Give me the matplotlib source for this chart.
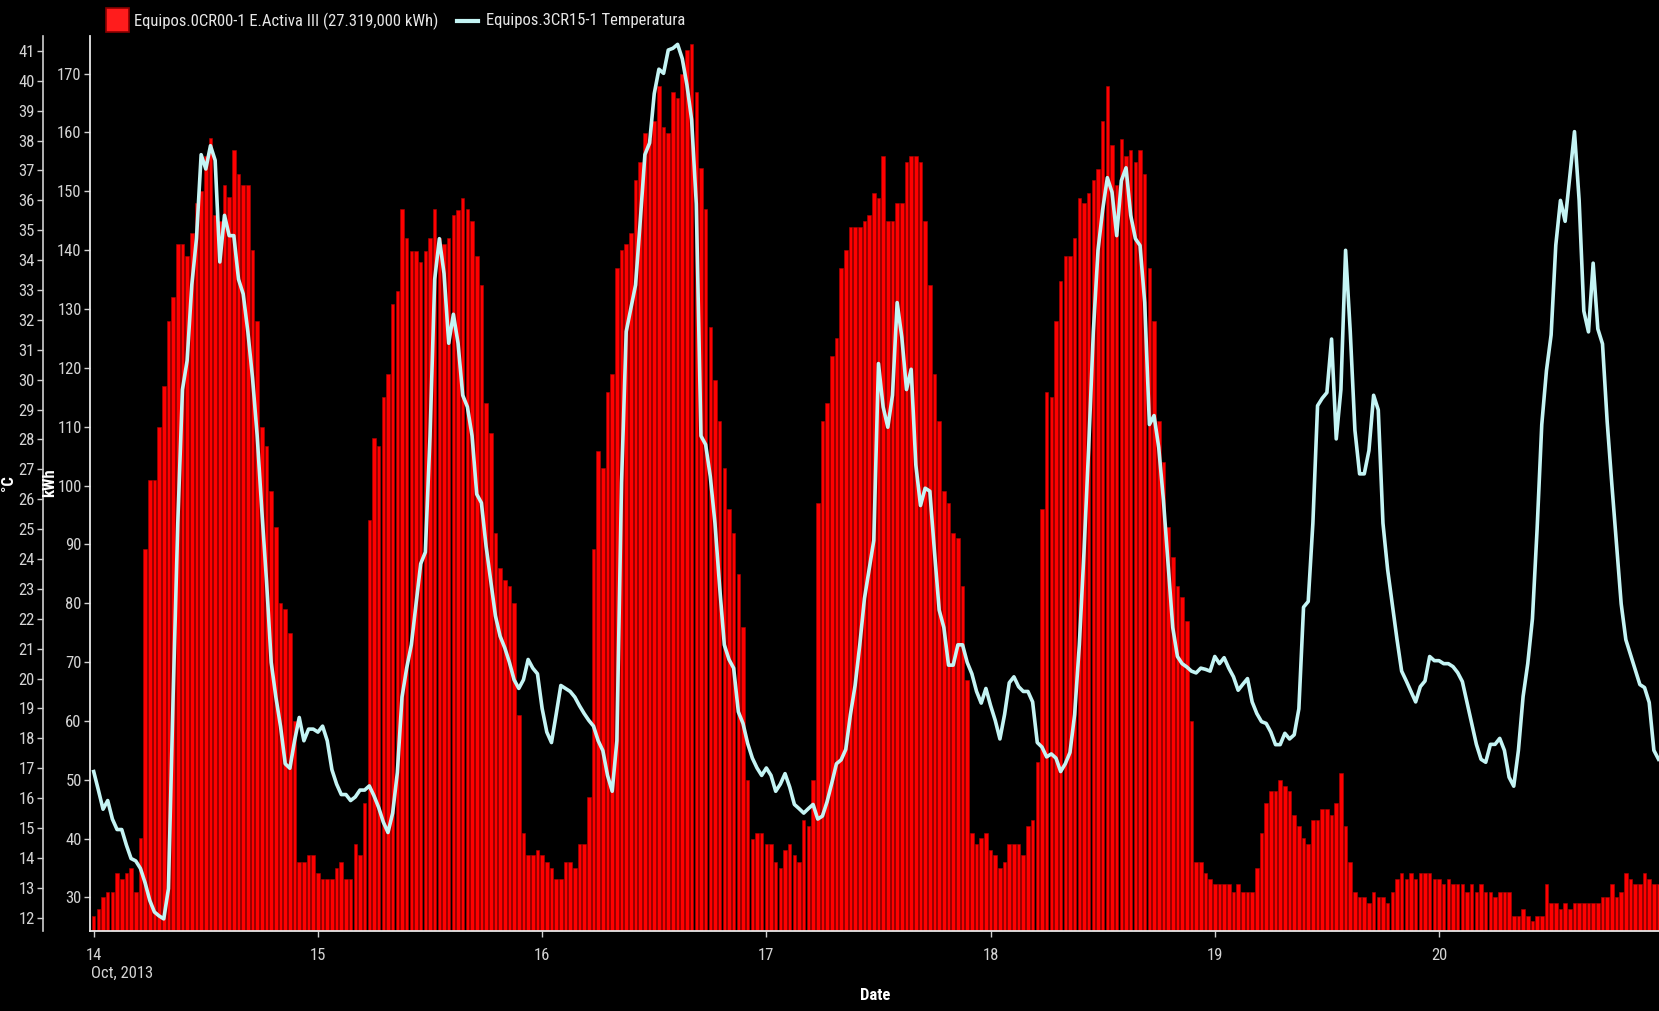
import numpy as np
import matplotlib
matplotlib.use("Agg")
import matplotlib.pyplot as plt
from matplotlib import font_manager
from matplotlib.patches import Rectangle
from matplotlib.lines import Line2D

# half-hourly energy (kWh), one list per day of October 2013
kwh_14 = [26.8, 28.0, 30.0, 31.0, 31.0, 34.1, 33.2, 34.1, 35.0, 31.0, 40.1, 89.2, 101, 101, 110, 116.9,
          128, 132, 141, 141, 139, 143, 148, 150, 156, 159, 146, 145, 151, 149, 157, 153,
          151, 151, 140, 128, 110, 106.8, 99, 93, 80, 79, 75, 60, 36, 36, 37.2, 37.2]
kwh_15 = [34.1, 33.2, 33.2, 33.2, 35.0, 36.0, 33.2, 33.2, 39.1, 37.2, 46.0, 94.1, 108, 106.8, 115, 119,
          130.9, 133, 147, 142, 139.9, 139.9, 138, 139.9, 142, 147, 142, 141, 142, 145.9, 146.9, 148.8,
          147, 144.9, 139, 134, 114, 109, 92, 86, 84, 83, 80, 61, 41, 37.2, 37.2, 38]
kwh_16 = [37.2, 36, 35, 33.2, 33.2, 36, 36, 35, 39.1, 39.1, 47.1, 89.2, 105.9, 103, 115.9, 119,
          137, 140, 141, 143, 152, 155, 159.9, 158.9, 162, 167.9, 160.9, 159.9, 166.9, 165.9, 170, 174,
          175, 166.9, 153.9, 147, 127, 118, 111, 103, 96, 92, 85, 76, 50, 40, 41, 41]
kwh_17 = [39.1, 39.1, 36, 35, 38, 39.1, 37.2, 36, 43.1, 42.1, 50, 97, 111, 114, 122, 125,
          137, 140, 143.9, 143.9, 143.9, 144.9, 146, 149.8, 148.8, 156, 144.9, 144.9, 148, 148, 155, 156,
          156, 155, 144.9, 134, 119, 111, 99, 97, 92, 91, 83, 67, 41, 39.1, 40.1, 41]
kwh_18 = [38, 37.2, 35, 36, 39.1, 39.1, 39.1, 37.2, 42.1, 43.1, 53, 96, 115.9, 115, 128, 134.8,
          139, 139, 142, 148.8, 148, 149.8, 152, 153.8, 161.9, 167.9, 157.9, 151, 158.9, 156, 157, 155,
          157, 153, 137, 128, 111, 104, 93, 87.9, 83, 81, 77, 60, 36, 36, 34.1, 33.2]
kwh_19 = [32.2, 32.2, 32.2, 32.2, 31, 32.2, 31, 31, 31, 35, 41, 46, 48, 48, 50, 49,
          48, 44, 42.1, 40.1, 39.1, 43.1, 43.1, 45.1, 45.1, 44, 46, 51.2, 42.1, 36, 31, 30,
          30, 29, 31, 30, 30, 29, 31, 33.2, 34.1, 33.2, 34.1, 33.2, 34.1, 34.1, 34.1, 33.2]
kwh_20 = [33.1, 32.2, 33.1, 32.2, 32.2, 32.2, 31.0, 32.2, 31.0, 32.2, 31.0, 31.0, 30.0, 31.0, 31.0, 31.0,
          26.9, 26.9, 28.1, 26.9, 26.0, 26.9, 26.9, 32.2, 29.0, 29.0, 28.1, 29.0, 28.1, 29.0, 29.0, 29.0,
          29.0, 29.0, 29.0, 30.0, 30.0, 32.2, 30.0, 31.0, 34.1, 33.1, 32.2, 32.2, 34.1, 33.1, 32.2, 32.2]

# half-hourly temperature (°C)
temp_14 = [16.89, 16.27, 15.63, 15.92, 15.30, 14.95, 14.95, 14.43, 13.98, 13.90, 13.65, 13.17, 12.58, 12.19, 12.06, 11.96,
           12.97, 19.38, 25.2, 29.67, 30.64, 33.17, 34.72, 37.53, 37.05, 37.83, 37.34, 33.94, 35.5, 34.82, 34.82, 33.36,
           32.87, 31.61, 30.06, 28.12, 25.6, 23.26, 20.54, 19.38, 18.4, 17.15, 17.0, 17.92, 18.7, 17.92, 18.31, 18.31]
temp_15 = [18.21, 18.41, 17.92, 16.95, 16.47, 16.12, 16.12, 15.92, 16.04, 16.27, 16.27, 16.41, 16.08, 15.69, 15.2, 14.85,
           15.5, 16.85, 19.38, 20.35, 21.13, 22.49, 23.84, 24.23, 28.12, 33.36, 34.72, 33.55, 31.22, 32.19, 31.22, 29.48,
           29.09, 28.12, 26.17, 25.88, 24.43, 23.26, 22.1, 21.42, 21.03, 20.54, 19.96, 19.67, 19.96, 20.64, 20.35, 20.16]
temp_16 = [19.0, 18.21, 17.86, 18.8, 19.77, 19.67, 19.57, 19.38, 19.09, 18.83, 18.6, 18.41, 17.92, 17.59, 16.76, 16.23,
           17.92, 26.56, 31.61, 32.39, 33.17, 35.3, 37.53, 37.92, 39.57, 40.39, 40.25, 41.03, 41.09, 41.22, 40.74, 39.86,
           38.7, 35.88, 28.12, 27.83, 26.76, 25.2, 23.07, 21.13, 20.64, 20.35, 18.89, 18.5, 17.83, 17.34, 17.01, 16.76]
temp_17 = [17.01, 16.76, 16.23, 16.47, 16.82, 16.37, 15.79, 15.65, 15.5, 15.65, 15.79, 15.3, 15.4, 15.88, 16.5, 17.15,
           17.28, 17.63, 18.8, 19.77, 21.13, 22.68, 23.65, 24.62, 30.54, 29.09, 28.41, 29.48, 32.58, 31.42, 29.67, 30.35,
           27.15, 25.79, 26.37, 26.27, 24.23, 22.29, 21.71, 20.45, 20.45, 21.13, 21.13, 20.54, 20.16, 19.57, 19.18, 19.67]
temp_18 = [19.1, 18.6, 17.98, 18.8, 19.86, 20.06, 19.73, 19.57, 19.57, 19.22, 17.86, 17.71, 17.38, 17.48, 17.34, 16.89,
           17.15, 17.53, 18.8, 21.13, 24.23, 27.73, 31.61, 34.33, 35.69, 36.76, 36.27, 34.82, 36.66, 37.09, 35.5, 34.72,
           34.49, 32.58, 28.5, 28.8, 27.73, 25.98, 23.84, 21.71, 20.74, 20.5, 20.39, 20.25, 20.19, 20.35, 20.31, 20.25]
temp_19 = [20.74, 20.5, 20.7, 20.35, 20.06, 19.61, 19.81, 20.0, 19.22, 18.83, 18.56, 18.5, 18.21, 17.79, 17.79, 18.17,
           17.98, 18.12, 18.99, 22.39, 22.58, 25.2, 29.13, 29.38, 29.57, 31.36, 28.02, 29.67, 34.33, 31.61, 28.31, 26.85,
           26.85, 27.63, 29.48, 28.99, 25.2, 23.65, 22.49, 21.32, 20.25, 19.92, 19.57, 19.22, 19.73, 19.92, 20.74, 20.6]
temp_20 = [20.6, 20.5, 20.5, 20.4, 20.2, 19.9, 19.2, 18.5, 17.8, 17.3, 17.2, 17.8, 17.8, 18.0, 17.6, 16.7,
           16.4, 17.6, 19.4, 20.5, 22.0, 25.0, 28.5, 30.3, 31.5, 34.5, 36.0, 35.3, 36.8, 38.3, 36.0, 32.3,
           31.6, 33.9, 31.7, 31.2, 28.6, 26.5, 24.5, 22.5, 21.3, 20.8, 20.3, 19.8, 19.7, 19.2, 17.6, 17.3]

day_ticks = [14, 15, 16, 17, 18, 19, 20]
kwh_ticks = list(range(30, 171, 10))
temp_ticks = list(range(12, 42))
bar_label = "Equipos.0CR00-1 E.Activa III (27.319,000 kWh)"
line_label = "Equipos.3CR15-1 Temperatura"

kwh = np.concatenate([kwh_14, kwh_15, kwh_16, kwh_17, kwh_18, kwh_19, kwh_20])
temp = np.concatenate([temp_14, temp_15, temp_16, temp_17, temp_18, temp_19, temp_20])
t = 14 + np.arange(len(kwh)) / 48.0

# try to get a narrow font, else plain Liberation Sans at a smaller size
names = {f.name for f in font_manager.fontManager.ttflist}
narrow = [n for n in ["Liberation Sans Narrow", "Arial Narrow", "Roboto Condensed",
                      "Open Sans Condensed", "Noto Sans Condensed"] if n in names]
if narrow:
    fam, fs, fs_leg = narrow[0], 12, 12
else:
    fam, fs, fs_leg = "Liberation Sans", 10.5, 10.2
plt.rcParams["font.family"] = [fam, "DejaVu Sans"]

W, H = 1659, 1011
fig = plt.figure(figsize=(W / 100, H / 100), dpi=100, facecolor="black")
left, right, top, bottom = 90, 1659, 36, 931
ax = fig.add_axes([left / W, 1 - bottom / H, (right - left) / W, (bottom - top) / H])
ax.set_facecolor("black")

ax.bar(t, kwh, width=0.76 / 48, color="#ff0000", edgecolor="#b00000", linewidth=0.4, zorder=2)
ax.set_ylim(24.29, 176.4)
ax.set_xlim(14 - 0.0165, t[-1] + 0.002)

ax.set_yticks(kwh_ticks)
ax.set_xticks(day_ticks)
ax.set_xticklabels([str(d) for d in day_ticks])
ax.tick_params(axis="y", direction="out", length=4, width=1, color="#cfcfcf",
               labelcolor="#d4d4d4", labelsize=fs, pad=2)
ax.tick_params(axis="x", direction="out", length=4, width=1, color="#cfcfcf",
               labelcolor="#d4d4d4", labelsize=fs, pad=8)
for s in ["top", "right"]:
    ax.spines[s].set_visible(False)
for s in ["left", "bottom"]:
    ax.spines[s].set_color("#e8e8e8")
    ax.spines[s].set_linewidth(1.3)

ax2 = ax.twinx()
ax2.plot(t, temp, color="#c4f4f4", linewidth=2.6, solid_joinstyle="round", zorder=3)
ax2.set_ylim(11.555, 41.5)
ax2.set_yticks(temp_ticks)
ax2.yaxis.tick_left()
ax2.spines["left"].set_position(("outward", 47 * 0.72))
ax2.spines["left"].set_visible(True)
ax2.spines["left"].set_color("#cfcfcf")
ax2.spines["left"].set_linewidth(1.2)
for s in ["top", "right", "bottom"]:
    ax2.spines[s].set_visible(False)
ax2.tick_params(axis="y", direction="out", length=4, width=1, color="#cfcfcf",
                labelcolor="#d4d4d4", labelsize=fs, pad=2)

# axis titles
fig.text(50 / W, 1 - 483 / H, "kWh", rotation=90, color="white", fontsize=fs,
         fontweight="bold", ha="center", va="center")
fig.text(9 / W, 1 - 483 / H, "°C", rotation=90, color="white", fontsize=fs,
         fontweight="bold", ha="center", va="center")
fig.text(875 / W, 1 - 995 / H, "Date", color="white", fontsize=fs,
         fontweight="bold", ha="center", va="center")
fig.text(91 / W, 1 - 973 / H, "Oct, 2013", color="#d4d4d4", fontsize=fs,
         ha="left", va="center")

# legend on top
fig.add_artist(Rectangle((106 / W, 1 - 32 / H), 23 / W, 24 / H, transform=fig.transFigure,
                         facecolor="#ff1c1c", edgecolor="#8a0000", linewidth=1.2))
fig.text(134 / W, 1 - 21 / H, bar_label, color="#e6e6e6", fontsize=fs_leg, va="center", ha="left")
fig.add_artist(Line2D([457 / W, 478 / W], [1 - 21 / H, 1 - 21 / H], transform=fig.transFigure,
                      color="#c4f4f4", linewidth=3))
fig.text(486 / W, 1 - 21 / H, line_label, color="#e6e6e6", fontsize=fs_leg, va="center", ha="left")

fig.savefig("out.png", dpi=100, facecolor="black")
